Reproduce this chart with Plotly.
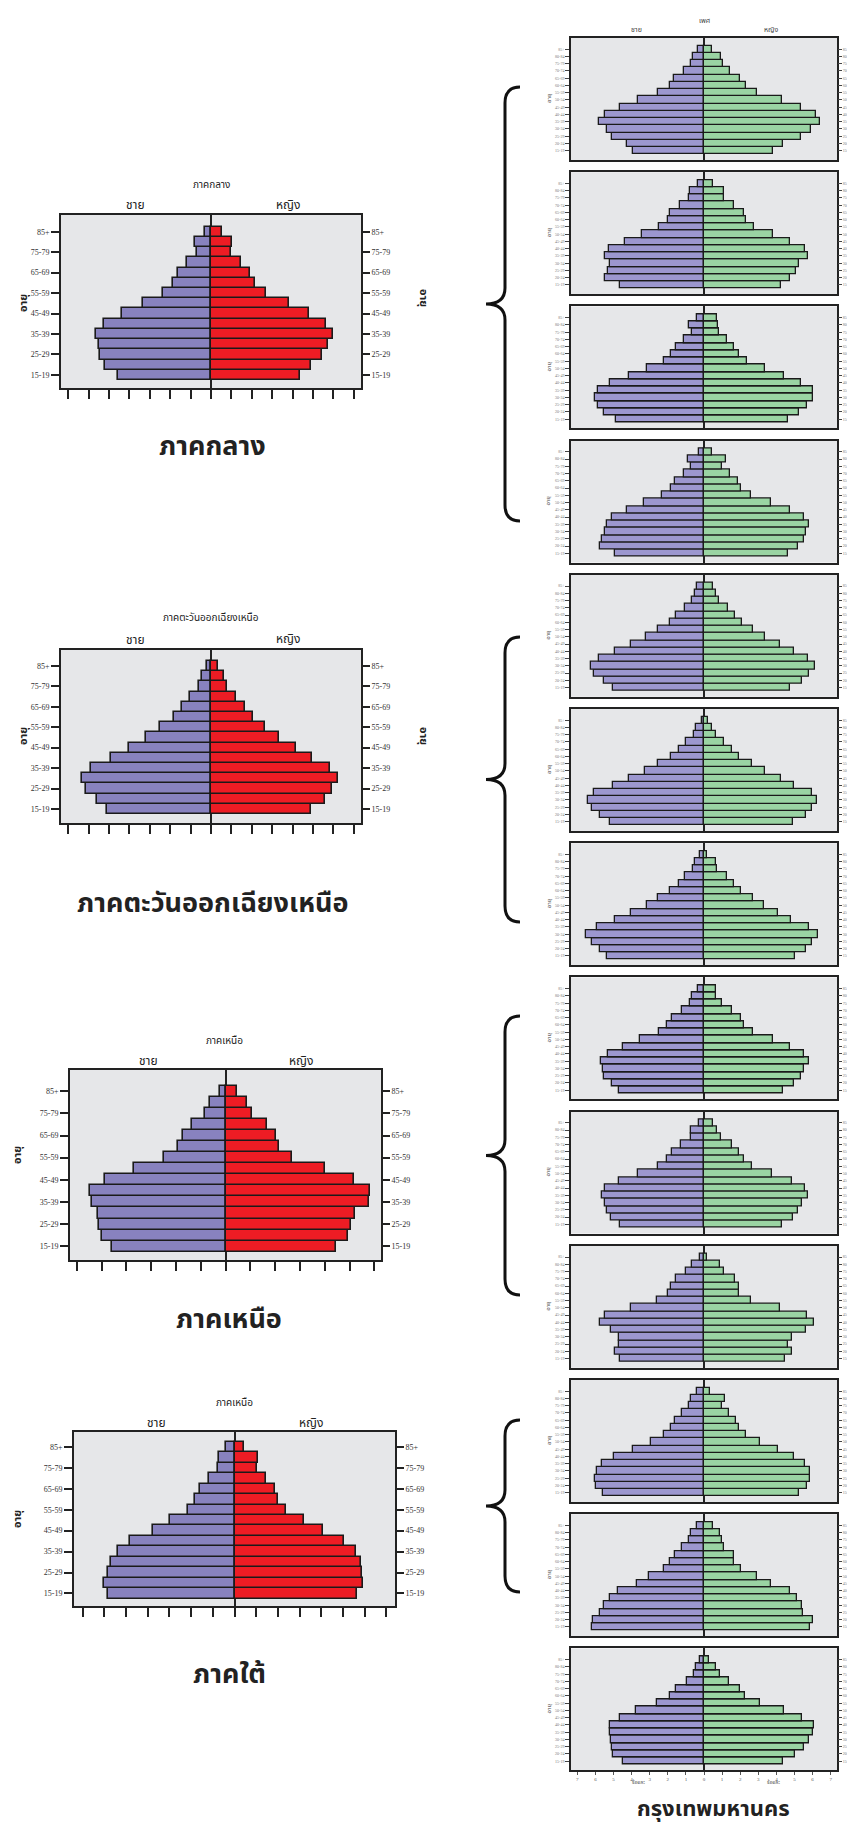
import plotly.graph_objects as go

W, H = 855, 1827

ages = ["15-19", "20-24", "25-29", "30-34", "35-39", "40-44", "45-49", "50-54",
        "55-59", "60-64", "65-69", "70-74", "75-79", "80-84", "85+"]
large_ticks = ["15-19", "25-29", "35-39", "45-49", "55-59", "65-69", "75-79", "85+"]

# ---- regional pyramids (percent), ordered 15-19 ... 85+ ----
central_m = [4.58, 5.21, 5.42, 5.51, 5.62, 5.25, 4.35, 3.35, 2.35, 1.85, 1.62, 1.16, 0.70, 0.78, 0.28]
central_f = [4.36, 4.90, 5.44, 5.75, 6.00, 5.65, 4.80, 3.82, 2.70, 2.17, 1.93, 1.45, 0.98, 1.03, 0.52]
northeast_m = [5.10, 5.59, 6.13, 6.32, 5.87, 4.90, 4.04, 3.19, 2.48, 1.81, 1.41, 1.01, 0.60, 0.46, 0.21]
northeast_f = [4.90, 5.57, 5.92, 6.23, 5.85, 4.93, 4.18, 3.35, 2.66, 2.06, 1.67, 1.24, 0.77, 0.64, 0.33]
north_m = [4.59, 4.97, 5.09, 5.15, 5.40, 5.46, 4.86, 3.70, 2.48, 1.93, 1.72, 1.34, 0.82, 0.62, 0.23]
north_f = [4.44, 4.95, 5.07, 5.23, 5.77, 5.81, 5.19, 4.00, 2.70, 2.16, 2.03, 1.66, 1.06, 0.86, 0.47]
south_m = [5.85, 6.01, 5.85, 5.68, 5.38, 4.84, 3.76, 2.96, 2.14, 1.80, 1.58, 1.17, 0.78, 0.72, 0.38]
south_f = [5.64, 5.93, 5.90, 5.84, 5.58, 5.04, 4.06, 3.21, 2.37, 2.00, 1.87, 1.44, 1.03, 1.09, 0.46]

# ---- Bangkok pyramids (13 small charts) ----
bkk01_m = [3.90, 4.27, 5.08, 5.38, 5.82, 5.49, 4.66, 3.65, 2.54, 1.90, 1.66, 1.12, 0.74, 0.61, 0.33]
bkk01_f = [3.83, 4.36, 5.34, 5.89, 6.41, 6.19, 5.34, 4.29, 2.95, 2.30, 1.97, 1.42, 1.03, 0.96, 0.42]
bkk02_m = [4.64, 5.49, 5.29, 5.21, 5.45, 5.27, 4.35, 3.41, 2.47, 2.01, 1.86, 1.34, 0.85, 0.79, 0.35]
bkk02_f = [4.27, 4.77, 5.10, 5.23, 5.75, 5.56, 4.77, 3.83, 2.78, 2.34, 2.19, 1.68, 1.12, 1.09, 0.52]
bkk03_m = [4.84, 5.52, 5.84, 6.02, 5.87, 5.21, 4.16, 3.13, 2.23, 1.84, 1.55, 1.10, 0.68, 0.85, 0.37]
bkk03_f = [4.66, 5.23, 5.71, 6.02, 6.02, 5.38, 4.42, 3.39, 2.39, 1.95, 1.68, 1.25, 0.83, 0.79, 0.74]
bkk04_m = [4.90, 5.73, 5.65, 5.45, 5.38, 5.08, 4.24, 3.30, 2.30, 1.84, 1.60, 1.10, 0.70, 0.90, 0.29]
bkk04_f = [4.66, 5.21, 5.52, 5.65, 5.82, 5.51, 4.73, 3.68, 2.62, 2.06, 1.90, 1.44, 0.98, 1.22, 0.44]
bkk05_m = [5.03, 5.51, 6.08, 6.22, 5.78, 4.94, 4.05, 3.22, 2.52, 1.90, 1.53, 1.07, 0.64, 0.52, 0.41]
bkk05_f = [4.77, 5.43, 5.82, 6.13, 5.76, 4.99, 4.18, 3.39, 2.71, 2.08, 1.73, 1.31, 0.85, 0.66, 0.50]
bkk06_m = [5.17, 5.73, 6.21, 6.39, 6.10, 5.03, 4.16, 3.26, 2.52, 1.84, 1.36, 0.98, 0.57, 0.42, 0.13]
bkk06_f = [4.94, 5.65, 5.95, 6.26, 5.99, 4.99, 4.27, 3.39, 2.63, 1.95, 1.55, 1.12, 0.68, 0.46, 0.20]
bkk07_m = [5.34, 5.75, 6.21, 6.52, 5.93, 4.90, 4.03, 3.17, 2.52, 1.90, 1.38, 1.03, 0.63, 0.50, 0.20]
bkk07_f = [5.03, 5.65, 5.97, 6.32, 5.82, 4.83, 4.07, 3.30, 2.69, 2.06, 1.64, 1.27, 0.74, 0.64, 0.18]
bkk08_m = [4.70, 5.08, 5.51, 5.56, 5.67, 5.32, 4.49, 3.52, 2.47, 2.03, 1.75, 1.23, 0.76, 0.64, 0.33]
bkk08_f = [4.38, 4.99, 5.34, 5.54, 5.78, 5.54, 4.73, 3.81, 2.69, 2.21, 2.04, 1.53, 1.01, 0.66, 0.66]
bkk09_m = [4.62, 5.12, 5.34, 5.47, 5.64, 5.45, 4.68, 3.65, 2.52, 2.03, 1.75, 1.29, 0.74, 0.72, 0.29]
bkk09_f = [4.33, 4.94, 5.19, 5.40, 5.76, 5.58, 4.88, 3.78, 2.67, 2.19, 1.93, 1.57, 0.96, 0.74, 0.50]
bkk10_m = [4.62, 4.90, 4.71, 4.70, 5.16, 5.73, 5.45, 4.03, 2.62, 1.97, 1.84, 1.57, 0.98, 0.66, 0.24]
bkk10_f = [4.46, 4.86, 4.66, 4.84, 5.65, 6.10, 5.71, 4.18, 2.62, 1.95, 1.92, 1.73, 1.12, 0.90, 0.18]
bkk11_m = [5.56, 5.97, 6.00, 5.93, 5.64, 4.97, 3.94, 2.91, 2.19, 1.80, 1.60, 1.20, 0.81, 0.74, 0.39]
bkk11_f = [5.23, 5.71, 5.87, 5.87, 5.56, 4.99, 4.07, 3.11, 2.34, 1.93, 1.79, 1.40, 0.98, 1.16, 0.33]
bkk12_m = [6.19, 6.15, 5.75, 5.52, 5.19, 4.75, 3.68, 3.02, 2.19, 1.88, 1.62, 1.22, 0.81, 0.74, 0.41]
bkk12_f = [5.87, 6.00, 5.45, 5.40, 5.16, 4.75, 3.68, 2.93, 2.04, 1.66, 1.64, 1.12, 0.99, 0.90, 0.52]
bkk13_m = [4.48, 5.05, 5.10, 5.16, 5.21, 5.21, 4.66, 3.78, 2.60, 1.86, 1.55, 0.96, 0.55, 0.46, 0.20]
bkk13_f = [4.38, 5.05, 5.52, 5.82, 6.00, 6.06, 5.43, 4.40, 3.09, 2.28, 1.97, 1.40, 0.87, 0.64, 0.26]

THAI = "Noto Sans Thai, Noto Serif Thai, Loma, Garuda, Tlwg Typo, Kinnari, sans-serif"
SERIF = "Liberation Serif, DejaVu Serif, serif"
BG = "#E6E7E9"
FRAME = "#222222"

def px(x):
    return x / W

def py(y):
    return 1 - y / H

fig = go.Figure()
layout = dict(width=W, height=H, margin=dict(l=0, r=0, t=0, b=0),
              paper_bgcolor="white", plot_bgcolor=BG, showlegend=False,
              barmode="relative", bargap=0)
annotations = []
shapes = []

def ann(text, x, y, size, bold=False, angle=0, family=THAI, color="#222"):
    t = "<b>%s</b>" % text if bold else text
    annotations.append(dict(text=t, x=px(x), y=py(y), xref="paper", yref="paper",
                            showarrow=False, textangle=angle,
                            font=dict(family=family, size=size, color=color),
                            xanchor="center", yanchor="middle"))

def pyramid(n, males, females, box, xr, yr, large, xticks=False, lim=7):
    x0, y0, x1, y1 = box
    xa = "x%d" % n
    ya = "y%d" % n
    yb = "y%d" % (n + 100)
    mcol = "#8882BF" if large else "#9C97CF"
    fcol = "#ED1C24" if large else "#9AD4A3"
    lw = 1.6 if large else 1.3
    fig.add_trace(go.Bar(y=ages, x=[-v for v in males], orientation="h",
                         marker=dict(color=mcol, line=dict(color="#1a1a1a", width=lw)),
                         xaxis=xa, yaxis=ya, hoverinfo="skip"))
    fig.add_trace(go.Bar(y=ages, x=females, orientation="h",
                         marker=dict(color=fcol, line=dict(color="#1a1a1a", width=lw)),
                         xaxis=xa, yaxis=ya, hoverinfo="skip"))
    fig.add_trace(go.Scatter(y=ages, x=[0] * len(ages), mode="markers",
                             marker=dict(opacity=0, size=1), xaxis=xa, yaxis=yb,
                             hoverinfo="skip"))
    tv = list(range(-lim, lim + 1))
    xaxis = dict(domain=[px(x0), px(x1)], anchor=ya, range=[-xr, xr],
                 showline=True, linecolor=FRAME, linewidth=2 if large else 1.6, mirror=True,
                 showgrid=False, zeroline=True, zerolinecolor=FRAME,
                 zerolinewidth=2 if large else 1.6, fixedrange=True)
    if large:
        xaxis.update(tickmode="array", tickvals=tv, ticks="outside", ticklen=9,
                     tickwidth=2, tickcolor=FRAME, showticklabels=False)
    elif xticks:
        xaxis.update(tickmode="array", tickvals=tv, ticktext=[str(abs(v)) for v in tv],
                     ticks="outside", ticklen=3, tickwidth=1, tickcolor="#555",
                     tickfont=dict(size=5, family=SERIF, color="#555"))
    else:
        xaxis.update(showticklabels=False, ticks="")
    layout["xaxis%d" % n] = xaxis
    tickv = large_ticks if large else ages
    yfont = dict(size=8, family=SERIF, color="#333") if large else dict(size=4, family=SERIF, color="#777")
    common = dict(type="category", categoryorder="array", categoryarray=ages,
                  range=list(yr), tickmode="array", tickvals=tickv, ticktext=tickv,
                  ticks="outside", ticklen=8 if large else 4, tickwidth=2 if large else 1,
                  tickcolor=FRAME if large else "#444", tickfont=yfont, showgrid=False,
                  fixedrange=True)
    ya_d = dict(domain=[py(y1), py(y0)], anchor=xa, showline=True, linecolor=FRAME,
                linewidth=2 if large else 1.6, mirror=True, side="left", **common)
    yb_d = dict(domain=[py(y1), py(y0)], anchor=xa, overlaying=ya, side="right",
                showline=False, zeroline=False, **common)
    layout["yaxis%d" % n] = ya_d
    layout["yaxis%d" % (n + 100)] = yb_d

# ---- large regional charts ----
regions = [
    (central_m, central_f, (53, 207, 353, 380), 7.35, (-1.28, 15.64), 7),
    (northeast_m, northeast_f, (53, 642, 353, 815), 7.35, (-1.38, 15.57), 7),
    (north_m, north_f, (62, 1062, 373, 1252), 6.27, (-1.25, 15.92), 6),
    (south_m, south_f, (66, 1424, 387, 1598), 7.4, (-1.2, 15.43), 7),
]
for i, (m, f, box, xr, yr, lim) in enumerate(regions, start=1):
    pyramid(i, m, f, box, xr, yr, True, lim=lim)

# headers for the large charts
ann("ภาคกลาง", 203, 177, 10)
ann("ชาย", 127, 197, 12)
ann("หญิง", 280, 197, 12)
ann("ภาคตะวันออกเฉียงเหนือ", 203, 610, 10)
ann("ชาย", 127, 632, 12)
ann("หญิง", 280, 631, 12)
ann("ภาคเหนือ", 217, 1033, 10)
ann("ชาย", 140, 1053, 12)
ann("หญิง", 293, 1053, 12)
ann("ภาคเหนือ", 227, 1395, 10)
ann("ชาย", 148, 1415, 12)
ann("หญิง", 303, 1415, 12)
for (x, y) in [(15, 295), (15, 728), (9, 1147), (9, 1511)]:
    ann("อายุ", x, y, 11, bold=True, angle=-90)
for (x, y) in [(416, 290), (416, 728)]:
    ann("อายุ", x, y, 11, bold=True, angle=90)

# big region labels
ann("ภาคกลาง", 204, 439, 27, bold=True)
ann("ภาคตะวันออกเฉียงเหนือ", 204, 895, 27, bold=True)
ann("ภาคเหนือ", 221, 1311, 27, bold=True)
ann("ภาคใต้", 221, 1666, 27, bold=True)
ann("กรุงเทพมหานคร", 705, 1801, 22, bold=True)

# ---- small Bangkok charts ----
bkk = [(bkk01_m, bkk01_f), (bkk02_m, bkk02_f), (bkk03_m, bkk03_f), (bkk04_m, bkk04_f),
       (bkk05_m, bkk05_f), (bkk06_m, bkk06_f), (bkk07_m, bkk07_f), (bkk08_m, bkk08_f),
       (bkk09_m, bkk09_f), (bkk10_m, bkk10_f), (bkk11_m, bkk11_f), (bkk12_m, bkk12_f),
       (bkk13_m, bkk13_f)]
for k, (m, f) in enumerate(bkk):
    top = 30 + 134.2 * k
    box = (563, top, 829, top + 122)
    pyramid(10 + k, m, f, box, 7.35, (-1.28, 15.55), False, xticks=(k == len(bkk) - 1))
    ann("อายุ", 541, top + 60, 6, angle=-90, color="#444")
    ann("อายุ", 843, top + 60, 6, angle=90, color="#444")

ann("เพศ", 697, 13, 7, color="#444")
ann("ชาย", 628, 22, 7, color="#444")
ann("หญิง", 763, 22, 7, color="#444")
ann("ร้อยละ", 630, 1774, 5, color="#555")
ann("ร้อยละ", 765, 1774, 5, color="#555")

# ---- curly braces grouping the Bangkok charts ----
def brace(yt, yb, xt=478, xs=497, xe=512, r=16):
    ym = (yt + yb) / 2.0
    pts = [("M", [(xe, yt)]),
           ("Q", [(xs, yt), (xs, yt + r)]),
           ("L", [(xs, ym - r)]),
           ("Q", [(xs, ym), (xt, ym)]),
           ("Q", [(xs, ym), (xs, ym + r)]),
           ("L", [(xs, yb - r)]),
           ("Q", [(xs, yb), (xe, yb)])]
    path = " ".join(c + " " + " ".join("%.5f,%.5f" % (px(x), py(y)) for x, y in p) for c, p in pts)
    shapes.append(dict(type="path", path=path, xref="paper", yref="paper",
                       line=dict(color="#111", width=3)))

brace(79, 513)
brace(629, 914)
brace(1008, 1287)
brace(1412, 1584)

layout["annotations"] = annotations
layout["shapes"] = shapes
fig.update_layout(**layout)
fig.write_html("out.html")
